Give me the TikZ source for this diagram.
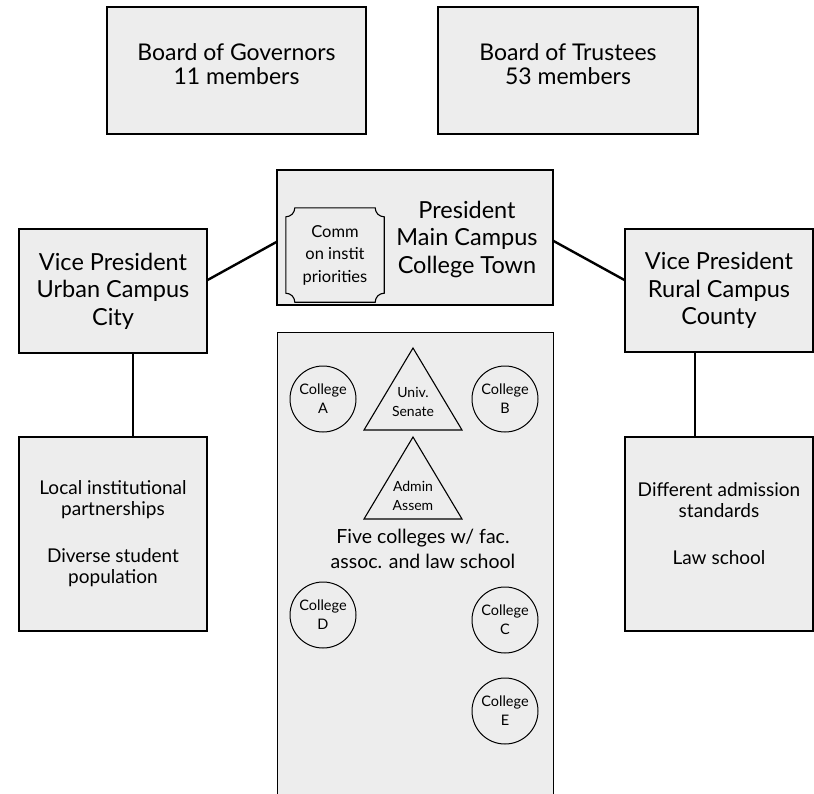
\documentclass[tikz,border=0pt]{standalone}
\usepackage{fontspec}
\setmainfont{Lato}
\definecolor{boxgray}{gray}{0.93}

\tikzset{
    box/.style={draw, line width=1.2pt, fill=boxgray, inner sep=0pt, align=center},
    link/.style={line width=2.4pt},
    outline/.style={line width=1.1pt},
    college/.style={circle, draw, line width=1pt, minimum size=66pt, inner sep=0pt, align=center, font=\fontsize{14.5}{19}\selectfont},
    boardtext/.style={font=\fontsize{23}{24}\selectfont, align=center},
    bigtext/.style={font=\fontsize{23.5}{27.5}\selectfont},
    midtext/.style={font=\fontsize{19}{21}\selectfont, align=center},
    fivetext/.style={font=\fontsize{19.5}{25}\selectfont, align=center},
    smalltext/.style={font=\fontsize{16.5}{22.5}\selectfont, align=center},
    tinytext/.style={font=\fontsize{14}{19}\selectfont, align=center}
}

\begin{document}
\begin{tikzpicture}[x=1pt,y=-1pt]
    \useasboundingbox (0,0) rectangle (814,793);

    \node [box, minimum width=259pt, minimum height=127pt] (gov) at (236.5,70.5) {};
    \node [boardtext] (govtxt) at (236.5,64) {Board of Governors\\11 members};
    \node [box, minimum width=260pt, minimum height=127pt] (trust) at (568,70.5) {};
    \node [boardtext] (trusttxt) at (568,64) {Board of Trustees\\53 members};

    \node [box, minimum width=276pt, minimum height=135pt] (pres) at (415,237.5) {};
    \node [bigtext, align=center] (prestxt) at (467,239) {President\\Main Campus\\College Town};
    \node [smalltext, minimum width=98pt, minimum height=94pt] (comm) at (335,255) {Comm\\on instit\\priorities};
    \draw [outline] ([yshift=-9pt]comm.north west) arc [start angle=270, end angle=360, radius=9pt]
        -- ([xshift=-9pt]comm.north east) arc [start angle=180, end angle=270, radius=9pt]
        -- ([yshift=9pt]comm.south east) arc [start angle=90, end angle=180, radius=9pt]
        -- ([xshift=9pt]comm.south west) arc [start angle=0, end angle=90, radius=9pt]
        -- cycle;

    \node [box, bigtext, minimum width=188pt, minimum height=124pt] (vpu) at (113,291) {Vice President\\Urban Campus\\City};
    \node [box, bigtext, minimum width=188pt, minimum height=123pt] (vpr) at (719,290.5) {Vice President\\Rural Campus\\County};

    \node [box, midtext, minimum width=188pt, minimum height=194pt] (local) at (113,534) {Local institutional\\partnerships\\[26pt]Diverse student\\population};
    \node [box, midtext, minimum width=188pt, minimum height=194pt] (rural) at (719,534) {Different admission\\standards\\[26pt]Law school\\\mbox{}};

    \node [fill=boxgray, minimum width=275pt, minimum height=467pt] (assoc) at (415.5,566.5) {};
    \draw [line width=1.2pt] (assoc.south west) -- (assoc.north west) -- (assoc.north east) -- (assoc.south east);

    \node [college] (cola) at (323,399) {College\\A};
    \node [college] (colb) at (505,399) {College\\B};
    \node [college] (cold) at (323,615) {College\\D};
    \node [college] (colc) at (505,620) {College\\C};
    \node [college] (cole) at (505,711) {College\\E};

    \draw [outline] (413,348) -- (462,430) -- (364,430) -- cycle;
    \node [tinytext] (senate) at (413,402) {Univ.\\Senate};
    \draw [outline] (413,437) -- (462,519) -- (364,519) -- cycle;
    \node [tinytext] (admin) at (413,496) {Admin\\Assem};

    \node [fivetext] (five) at (423,549) {Five colleges w/ fac.\\assoc. and law school};

    \draw [link] ([yshift=11pt]vpu.east) -- ([yshift=-4.5pt]pres.west);
    \draw [link] ([yshift=-3.5pt]pres.east) -- ([yshift=10.5pt]vpr.west);
    \draw [link] ([xshift=20pt]vpu.south) -- ([xshift=20pt]local.north);
    \draw [link] ([xshift=-24pt]vpr.south) -- ([xshift=-24pt]rural.north);
\end{tikzpicture}
\end{document}
